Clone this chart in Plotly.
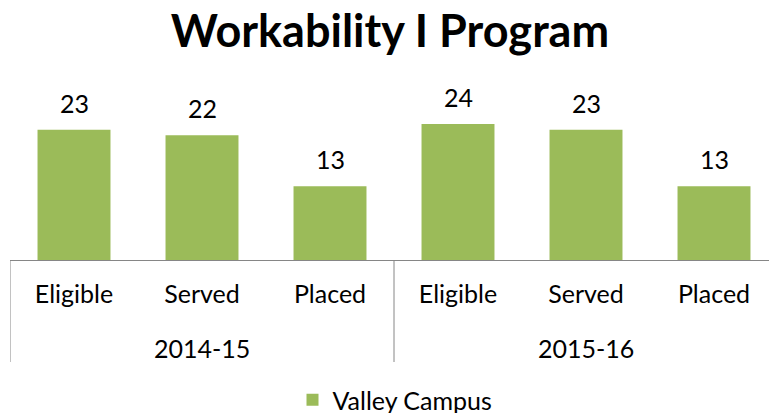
import plotly.graph_objects as go

years = ["2014-15", "2014-15", "2014-15", "2015-16", "2015-16", "2015-16"]
categories = ["Eligible", "Served", "Placed", "Eligible", "Served", "Placed"]
values = [23, 22, 13, 24, 23, 13]
series_name = "Valley Campus"
title_text = "Workability I Program"

GREEN = "#9BBB59"
AXIS = "#868686"
FONT = "Lato, 'Open Sans', sans-serif"
FS = 25

positions = list(range(len(categories)))

fig = go.Figure()
fig.add_trace(go.Bar(
    x=positions,
    y=values,
    name=series_name,
    marker=dict(color=GREEN, line=dict(width=0)),
    showlegend=True,
))

# value labels
for xi, v in zip(positions, values):
    fig.add_annotation(
        x=xi, y=v, xref="x", yref="y",
        text=str(v), showarrow=False,
        yanchor="middle", yshift=27,
        font=dict(family=FONT, size=FS, color="#000000"),
    )

# group labels and dividers
groups = []
for xi, yr in zip(positions, years):
    if not groups or groups[-1][0] != yr:
        groups.append([yr, []])
    groups[-1][1].append(xi)

PLOT_H = 170
for yr, idx in groups:
    fig.add_annotation(
        x=sum(idx) / len(idx), y=0, xref="x", yref="paper",
        text=yr, showarrow=False, yanchor="middle", yshift=-88,
        font=dict(family=FONT, size=FS, color="#000000"),
    )
bounds = sorted({idx[0] - 0.5 for _, idx in groups} | {idx[-1] + 0.5 for _, idx in groups})
for b in bounds:
    fig.add_shape(
        type="line", xref="x", yref="paper",
        x0=b, x1=b, y0=0, y1=-102 / PLOT_H,
        line=dict(color=AXIS, width=1),
    )

W, H = 769, 413
fig.update_layout(
    width=W, height=H,
    margin=dict(l=10, r=0, t=90, b=153),
    paper_bgcolor="white", plot_bgcolor="white",
    bargap=0.43,
    font=dict(family=FONT, size=FS, color="#000000"),
    title=dict(
        text="<b>" + title_text + "</b>",
        font=dict(family=FONT, size=45, color="#000000"),
        x=390 / W, xref="container", xanchor="center",
        y=1 - 31 / H, yref="container", yanchor="middle",
    ),
    showlegend=True,
    legend=dict(
        orientation="h",
        xref="container", yref="container",
        x=395 / W, xanchor="center",
        y=1 - 400 / H, yanchor="middle",
        font=dict(family=FONT, size=FS, color="#000000"),
        itemwidth=30,
    ),
    xaxis=dict(
        range=[-0.5, -0.5 + 759 / 128],
        tickvals=positions, ticktext=categories,
        showline=True, linecolor=AXIS, linewidth=1,
        showgrid=False, zeroline=False,
        ticks="", ticklabelstandoff=12,
        tickfont=dict(family=FONT, size=FS, color="#000000"),
    ),
    yaxis=dict(
        range=[0, 30], visible=False, showgrid=False, zeroline=False,
    ),
)

fig.write_html("out.html")
